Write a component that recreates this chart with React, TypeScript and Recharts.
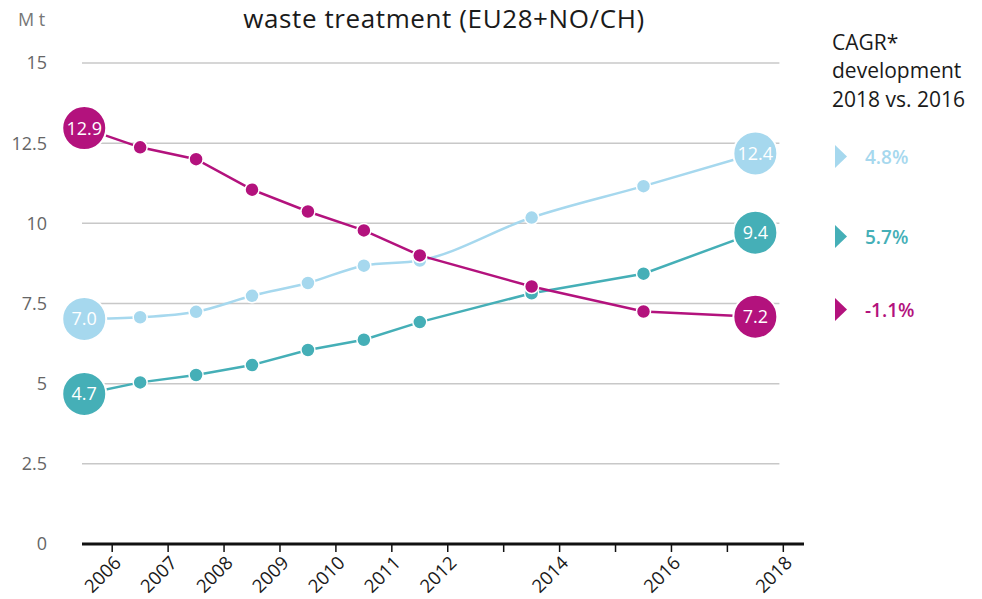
import { LineChart, Line, XAxis, YAxis, ReferenceLine } from "recharts";

const YEARS = [2006, 2007, 2008, 2009, 2010, 2011, 2012, 2014, 2016, 2018];
const LIGHT = [7.02, 7.07, 7.24, 7.74, 8.14, 8.68, 8.84, 10.18, 11.16, 12.18];
const TEAL = [4.68, 5.04, 5.27, 5.58, 6.05, 6.37, 6.92, 7.82, 8.43, 9.71];
const MAGENTA = [12.97, 12.37, 12.0, 11.05, 10.37, 9.78, 9.0, 8.03, 7.25, 7.09];

const LIGHT_END = ["7.0", "12.4"];
const TEAL_END = ["4.7", "9.4"];
const MAGENTA_END = ["12.9", "7.2"];

const Y_TICKS = [0, 2.5, 5, 7.5, 10, 12.5, 15];
const TICK_YEARS = [2006, 2007, 2008, 2009, 2010, 2011, 2012, 2013, 2014, 2015, 2016, 2017, 2018];
const TICK_LABELS = ["2006", "2007", "2008", "2009", "2010", "2011", "2012", "", "2014", "", "2016", "", "2018"];

const CAGR = ["4.8%", "5.7%", "-1.1%"];

const C_LIGHT = "#a6d8ee";
const C_TEAL = "#45afb7";
const C_MAGENTA = "#b3127d";
const FONT = "'Open Sans', 'Noto Sans', sans-serif";

const data = YEARS.map((year, i) => ({
  year,
  light: LIGHT[i],
  teal: TEAL[i],
  magenta: MAGENTA[i],
}));

const X_MIN = 2005.96;
const X_MAX = 2018.87;
const GRID_END = 2018.43;

function makeDot(color: string, ends: string[]) {
  return (props: any) => {
    const { cx, cy, index } = props;
    const last = YEARS.length - 1;
    if (index === 0 || index === last) {
      return (
        <g key={`big-${index}`}>
          <circle cx={cx} cy={cy} r={22} fill={color} stroke="#fff" strokeWidth={2} />
          <text
            x={cx}
            y={cy}
            dy={6.5}
            textAnchor="middle"
            fill="#fff"
            fontSize={18}
            fontFamily={FONT}
          >
            {index === 0 ? ends[0] : ends[1]}
          </text>
        </g>
      );
    }
    return (
      <circle key={`dot-${index}`} cx={cx} cy={cy} r={7} fill={color} stroke="#fff" strokeWidth={1.5} />
    );
  };
}

function XTick(props: any) {
  const { x, y, payload } = props;
  const idx = TICK_YEARS.indexOf(Math.floor(payload.value));
  const label = idx >= 0 ? TICK_LABELS[idx] : "";
  return (
    <g transform={`translate(${x},${y})`}>
      <text
        transform="translate(10,10) rotate(-45)"
        textAnchor="end"
        fill="#1a1a1a"
        fontSize={18.5}
        fontFamily={FONT}
      >
        {label}
      </text>
    </g>
  );
}

export default function App() {
  return (
    <div style={{ position: "absolute", left: 0, top: 0, width: 982, height: 599, background: "#fff" }}>
      <LineChart
        width={982}
        height={599}
        data={data}
        margin={{ top: 63, right: 178, bottom: 5, left: 0 }}
      >
        <XAxis
          dataKey="year"
          type="number"
          domain={[X_MIN, X_MAX]}
          ticks={TICK_YEARS.map((y) => y + 0.5)}
          interval={0}
          tick={<XTick />}
          tickSize={8}
          height={50}
          axisLine={{ stroke: "#111", strokeWidth: 3 }}
          tickLine={{ stroke: "#111", strokeWidth: 1.5 }}
        />
        <YAxis
          type="number"
          domain={[0, 15]}
          ticks={Y_TICKS}
          interval={0}
          width={82}
          tickSize={0}
          tickMargin={35}
          axisLine={false}
          tickLine={false}
          tick={{ fill: "#666", fontSize: 18, fontFamily: FONT }}
        />
        {Y_TICKS.filter((v) => v > 0).map((v) => (
          <ReferenceLine
            key={v}
            segment={[
              { x: X_MIN, y: v },
              { x: GRID_END, y: v },
            ]}
            stroke="#c8c8c8"
            strokeWidth={1.5}
          />
        ))}
        <Line
          dataKey="light"
          type="monotone"
          stroke={C_LIGHT}
          strokeWidth={2.5}
          dot={makeDot(C_LIGHT, LIGHT_END)}
          activeDot={false}
          isAnimationActive={false}
        />
        <Line
          dataKey="teal"
          type="linear"
          stroke={C_TEAL}
          strokeWidth={2.5}
          dot={makeDot(C_TEAL, TEAL_END)}
          activeDot={false}
          isAnimationActive={false}
        />
        <Line
          dataKey="magenta"
          type="linear"
          stroke={C_MAGENTA}
          strokeWidth={2.5}
          dot={makeDot(C_MAGENTA, MAGENTA_END)}
          activeDot={false}
          isAnimationActive={false}
        />
      </LineChart>
      <svg
        width={982}
        height={599}
        style={{ position: "absolute", left: 0, top: 0, pointerEvents: "none" }}
        fontFamily={FONT}
      >
        <text x={444} y={28} textAnchor="middle" fontSize={26} letterSpacing={0.6} fill="#1a1a1a">
          waste treatment (EU28+NO/CH)
        </text>
        <text x={18} y={26} fontSize={18} fill="#777">
          M t
        </text>
        <text x={832} y={50} fontSize={21} fill="#1a1a1a">CAGR*</text>
        <text x={832} y={78} fontSize={21} fill="#1a1a1a">development</text>
        <text x={832} y={107} fontSize={21} fill="#1a1a1a">2018 vs. 2016</text>
        {[C_LIGHT, C_TEAL, C_MAGENTA].map((c, i) => {
          const cy = [156.5, 236.5, 309.5][i];
          return (
            <g key={c}>
              <polygon points={`835,${cy - 11.5} 847,${cy} 835,${cy + 11.5}`} fill={c} />
              <text x={865} y={cy + 7} fontSize={19} fontWeight={600} fill={c}>
                {CAGR[i]}
              </text>
            </g>
          );
        })}
      </svg>
    </div>
  );
}
